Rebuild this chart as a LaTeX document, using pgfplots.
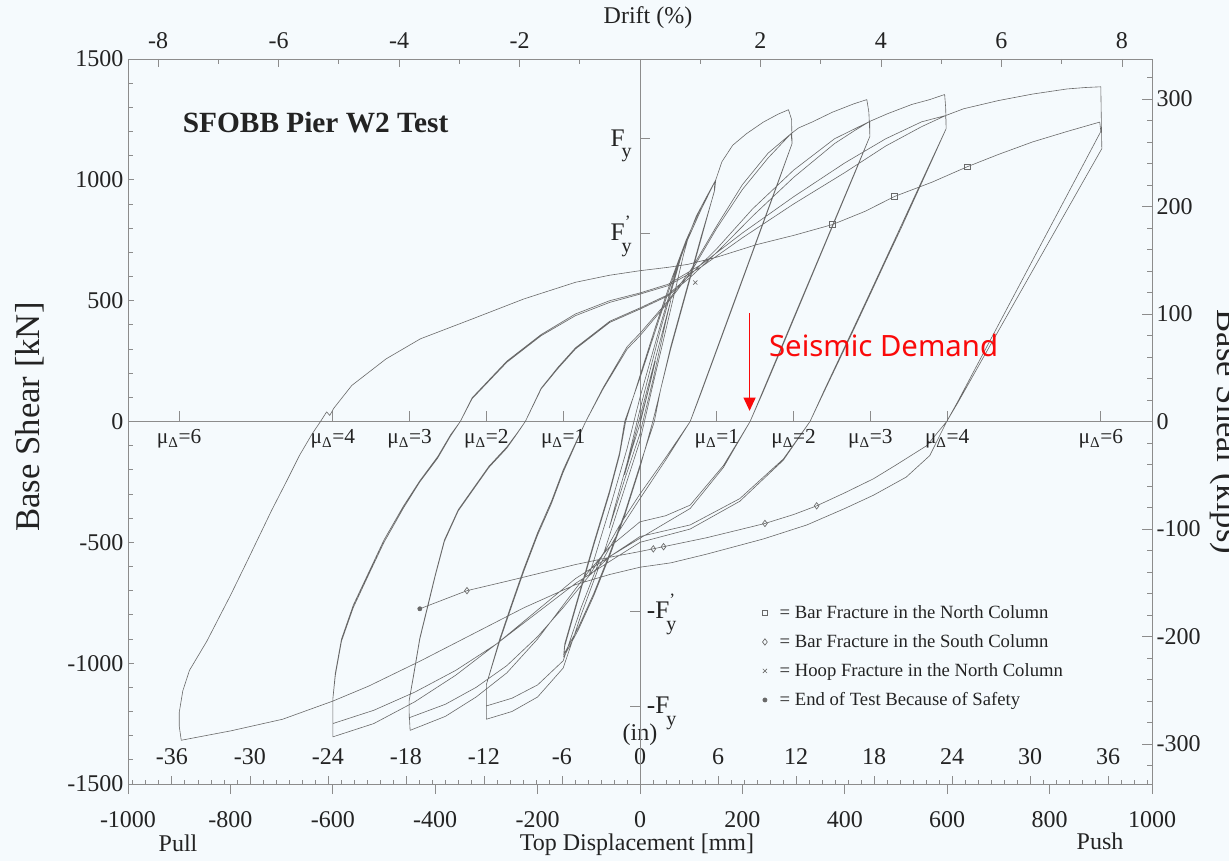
\documentclass[border=0pt]{standalone}
\usepackage{fontspec}
\setmainfont{Liberation Serif}
\newfontfamily\sdfont{Noto Sans}
\usepackage{pgfplots}
\pgfplotsset{compat=1.18}
\usetikzlibrary{arrows.meta}
\definecolor{bg}{RGB}{245,250,253}
\definecolor{axg}{RGB}{140,140,140}
\definecolor{crv}{RGB}{105,105,105}
\definecolor{txt}{RGB}{35,35,35}
\definecolor{sdred}{RGB}{250,10,10}
\newcommand{\fs}[1]{\fontsize{#1}{#1}\selectfont}
\newcommand{\mul}[1]{μ\textsubscript{Δ}=#1}
\pgfplotsset{
  base/.style={
    at={(96pt,57.75pt)}, anchor=south west,
    scale only axis, width=768pt, height=543.75pt,
    xmin=-1000, xmax=1000, ymin=-1500, ymax=1500,
    axis line style={axg, line width=0.6pt},
    tick style={axg, line width=0.5pt},
    tick label style={font=\fs{18}, text=txt},
    clip=false,
  }
}
\begin{document}
\begin{tikzpicture}
\fill[bg] (0,0) rectangle (921.75pt,645.75pt);
% bottom mm ticks
\begin{axis}[base, axis line style={draw=none},
  xtick={-1000,-800,...,1000},
  xticklabels={-1000,-800,-600,-400,-200,0,200,400,600,800,1000},
  xtick pos=left, xticklabel pos=left, tick align=outside,
  major tick length=7.5pt, ytick=\empty,
  xticklabel style={yshift=-9.5pt}]
\end{axis}
% top drift ticks
\begin{axis}[base, axis line style={draw=none}, xmin=-8.5, xmax=8.5,
  xtick={-8,-6,...,8}, xticklabels={-8,-6,-4,-2,,2,4,6,8},
  minor xtick={-7,-5,...,7},
  xtick pos=right, xticklabel pos=right, tick align=inside,
  major tick length=6pt, minor tick length=3.75pt, ytick=\empty,
  xticklabel style={yshift=4pt}]
\end{axis}
% right kips ticks
\begin{axis}[base, axis line style={draw=none}, ymin=-337.21, ymax=337.21,
  ytick={-300,-200,...,300}, yticklabels={-300,-200,-100,0,100,200,300},
  minor ytick={-320,-300,...,320},
  ytick pos=right, yticklabel pos=right, tick align=inside,
  major tick length=7.5pt, minor tick length=3.75pt, xtick=\empty]
\end{axis}
% bottom inch ticks
\begin{axis}[base, axis line style={draw=none}, xmin=-39.37, xmax=39.37,
  xtick={-36,-30,...,36}, xticklabels=\empty,
  minor xtick={-39,-38,...,39},
  xtick pos=left, tick align=inside,
  major tick length=6pt, minor tick length=3pt, ytick=\empty]
\pgfplotsinvokeforeach{-36,-30,-24,-18,-12,-6,0,6,12,18,24,30,36}{
  \node[anchor=base, font=\fs{18}, text=txt, inner sep=0] at (axis cs:#1,-1421) {#1};
}
\node[font=\fs{18}, text=txt] at (axis cs:0,-1297) {(in)};
\end{axis}
% main axis
\begin{axis}[base,
  xtick=\empty,
  ytick={-1500,-1000,-500,0,500,1000,1500},
  yticklabels={-1500,-1000,-500,0,500,1000,1500},
  minor ytick={-1400,-1300,...,1400},
  ytick pos=left, tick align=inside,
  major tick length=4.5pt, minor tick length=3.5pt,
  legend style={at={(axis cs:238,-755)}, anchor=north west, draw=none, fill=none,
    font=\fs{14}, text=txt, row sep=8.5pt, column sep=8pt, inner sep=0pt,
    nodes={inner sep=1pt}},
  legend cell align=left,
  legend image code/.code={\draw plot coordinates {(0pt,0pt)};},
]
\draw[axg, line width=0.6pt] (axis cs:-1000,0) -- (axis cs:1000,0);
\draw[axg, line width=0.6pt] (axis cs:0,-1500) -- (axis cs:0,1500);
\pgfplotsinvokeforeach{-900,-600,-450,-300,-150,150,300,450,600,900}{
  \draw[axg, line width=0.5pt] (axis cs:#1,0) -- ++(0pt,7.5pt);
}
\draw[axg, line width=0.5pt] (axis cs:0,1173) -- ++(7.5pt,0pt);
\draw[axg, line width=0.5pt] (axis cs:0,780) -- ++(7.5pt,0pt);
\draw[axg, line width=0.5pt] (axis cs:0,-784) -- ++(-7.5pt,0pt);
\draw[axg, line width=0.5pt] (axis cs:0,-1177) -- ++(-7.5pt,0pt);
\addplot[crv, line width=0.45pt, line join=round, forget plot] coordinates {
(0,0) (15,120) (30,250) (20,160) (0,-10) (-15,-110) (-30,-220) (-20,-140) (0,20)
(30,260) (60,500) (50,410) (25,170) (0,-50) (-30,-240) (-60,-440) (-50,-360) (-25,-170) (0,50)
(40,380) (80,680) (96,775) (85,690) (55,420) (25,150) (0,-80) (-35,-310) (-70,-540) (-100,-640)
(-88,-560) (-55,-330) (-25,-110) (0,100)
(40,400) (80,690) (110,850) (130,930) (148,1000) (146,960) (120,760) (90,530) (60,300) (40,130)
(25,0) (0,-190) (-30,-390) (-60,-560) (-90,-720) (-120,-860) (-149,-975) (-147,-930) (-120,-730)
(-90,-510) (-60,-300) (-40,-140) (-28,0) (0,190) (30,390) (60,580) (90,750) (120,890) (146,990)
(145,950) (120,770) (90,540) (60,310) (40,130) (28,0) (0,-180) (-30,-380) (-60,-550) (-90,-710)
(-120,-850) (-149,-965) (-147,-920) (-120,-720) (-90,-500) (-60,-290) (-40,-130) (-30,0) (0,180)
(40,440) (80,690) (120,880) (148,1000)
(160,1075) (181,1143) (208,1191) (241,1239) (270,1272) (290,1290) (296,1250) (297,1150)
(270,994) (240,821) (210,647) (180,474) (150,300) (120,127) (108,58) (98,0) (50,-160) (0,-319)
(-40,-450) (-80,-600) (-115,-800) (-150,-1020) (-200,-1140) (-250,-1200) (-300,-1232) (-300,-1150) (-300,-1088)
(-274,-909) (-250,-760) (-227,-620) (-200,-470) (-173,-340) (-150,-210) (-125,-90) (-106,0) (-72,135)
(-25,300) (0,355) (55,493) (100,620) (150,800) (200,960) (250,1090) (295,1191) (297,1150)
(270,990) (240,816) (210,642) (180,468) (150,295) (120,122) (108,55) (98,0) (50,-150) (0,-300)
(-40,-430) (-80,-580) (-115,-770) (-150,-990) (-200,-1090) (-250,-1145) (-300,-1177) (-300,-1088)
(-274,-900) (-250,-750) (-227,-610) (-200,-460) (-173,-330) (-150,-200) (-125,-85) (-106,0) (-72,140)
(-25,310) (0,365) (55,500) (100,630) (150,810) (200,980) (250,1110) (295,1191)
(310,1215) (336,1239) (376,1280) (417,1314) (443,1332) (447,1280) (449,1180)
(420,1034) (390,883) (360,731) (330,580) (300,429) (270,277) (240,126) (225,50) (215,0) (163,-182)
(98,-346) (50,-390) (0,-415) (-60,-520) (-100,-620) (-150,-760) (-200,-900) (-260,-1040) (-320,-1140)
(-380,-1220) (-449,-1278) (-451,-1200) (-451,-1157)
(-442,-1050) (-430,-900) (-415,-771) (-400,-640) (-382,-496) (-355,-370) (-328,-289) (-295,-190)
(-260,-110) (-240,-50) (-224,0) (-193,135) (-160,220) (-126,300) (-59,410) (0,465) (55,520) (100,600)
(150,700) (220,850) (300,1010) (380,1150) (420,1205) (449,1242) (449,1180)
(420,1030) (390,878) (360,726) (330,574) (300,422) (270,270) (240,120) (225,48) (215,0) (163,-190)
(98,-360) (50,-420) (0,-483) (-60,-560) (-100,-640) (-150,-770) (-200,-890) (-260,-1010) (-320,-1100)
(-380,-1170) (-451,-1226) (-451,-1157)
(-442,-1045) (-430,-895) (-415,-765) (-400,-635) (-382,-490) (-355,-365) (-328,-284) (-295,-185)
(-260,-105) (-240,-48) (-224,0) (-193,138) (-160,225) (-126,305) (-59,415) (0,470) (55,525) (100,610)
(150,715) (220,880) (300,1040) (380,1170) (449,1242)
(484,1274) (531,1312) (566,1332) (595,1353) (597,1300) (598,1212)
(570,1085) (540,948) (510,810) (480,673) (450,536) (420,400) (390,265) (360,130) (345,60) (332,0)
(280,-155) (195,-319) (98,-428) (0,-476) (-60,-560) (-126,-650) (-200,-780) (-280,-920) (-360,-1050)
(-440,-1160) (-520,-1250) (-600,-1305) (-600,-1220) (-600,-1150)
(-595,-1050) (-583,-909) (-560,-770) (-530,-634) (-500,-500) (-462,-358) (-430,-250) (-395,-151)
(-370,-60) (-351,0) (-328,94) (-260,245) (-193,355) (-126,438) (-59,493) (0,527) (55,562) (120,640)
(200,760) (300,900) (400,1030) (480,1140) (550,1220) (597,1266) (598,1212)
(570,1080) (540,940) (510,800) (480,665) (450,528) (420,392) (390,258) (360,125) (345,58) (332,0)
(280,-160) (195,-330) (98,-445) (0,-500) (-60,-580) (-126,-670) (-200,-790) (-280,-920) (-360,-1030)
(-440,-1120) (-520,-1195) (-600,-1250) (-600,-1150)
(-595,-1040) (-583,-900) (-560,-760) (-530,-625) (-500,-490) (-462,-350) (-430,-245) (-395,-145)
(-370,-55) (-351,0) (-328,98) (-260,250) (-193,360) (-126,445) (-59,500) (0,532) (55,568) (120,650)
(200,780) (300,930) (400,1070) (480,1170) (550,1240) (597,1266)
(632,1294) (700,1328) (767,1355) (834,1376) (870,1382) (900,1385) (901,1250) (902,1129)
(880,1047) (850,935) (820,823) (790,711) (760,599) (730,487) (700,375) (670,263) (640,150) (620,75)
(599,0) (566,-141) (520,-230) (456,-305) (400,-360) (326,-428) (241,-486) (130,-549) (60,-585) (0,-603)
(-59,-633) (-126,-675) (-227,-771) (-328,-881) (-429,-991) (-530,-1095) (-600,-1157) (-698,-1232)
(-799,-1280) (-896,-1319) (-900,-1260) (-900,-1205)
(-893,-1115) (-880,-1030) (-846,-909) (-800,-720) (-770,-590) (-745,-480) (-720,-370) (-691,-250)
(-665,-140) (-640,-50) (-624,0) (-612,40) (-606,25) (-598,55) (-563,149) (-496,259) (-429,342)
(-328,424) (-227,507) (-126,576) (-60,605) (0,624) (55,638) (93,650) (150,680) (228,732) (300,770)
(376,815) (440,870) (497,931) (570,990) (639,1054) (700,1105) (767,1157) (834,1200) (898,1239) (900,1200)
(880,1120) (850,1000) (820,880) (790,760) (760,640) (730,520) (700,400) (670,280) (640,160) (620,80)
(599,0) (560,-100) (500,-180) (456,-237) (400,-295) (345,-349) (300,-385) (244,-422) (190,-450)
(130,-481) (46,-518) (0,-538) (-55,-560) (-126,-592) (-200,-630) (-260,-661) (-338,-700) (-430,-775)
};
\addplot[only marks, mark=square, mark size=2.1pt, crv, line width=0.5pt] coordinates {(376,815) (497,931) (639,1054)};
\addlegendentry{= Bar Fracture in the North Column}
\addplot[only marks, mark=diamond, mark size=2.4pt, crv, line width=0.5pt] coordinates {(26,-527) (46,-518) (244,-422) (345,-349) (-338,-700)};
\addlegendentry{= Bar Fracture in the South Column}
\addplot[only marks, mark=x, mark size=2.2pt, crv, line width=0.5pt] coordinates {(108,575)};
\addlegendentry{= Hoop Fracture in the North Column}
\addplot[only marks, mark=*, mark size=1.6pt, crv, fill=crv] coordinates {(-430,-775)};
\addlegendentry{= End of Test Because of Safety}
% labels
\node[anchor=west, font=\bfseries\fs{22}, text=txt] at (axis cs:-902,1239) {SFOBB Pier W2 Test};
\node[anchor=base east, font=\fs{19}, text=txt, inner sep=0] at ([xshift=-6pt,yshift=-6pt]axis cs:0,1173) {F\kern-0.12em\raisebox{-0.45em}{\fs{15}y}};
\node[anchor=base east, font=\fs{19}, text=txt, inner sep=0] at ([xshift=-6pt,yshift=-6pt]axis cs:0,780) {F\rlap{\raisebox{0.55em}{\fs{13}'}}\kern-0.12em\raisebox{-0.45em}{\fs{15}y}};
\node[anchor=base west, font=\fs{19}, text=txt, inner sep=0] at ([xshift=5pt,yshift=-6pt]axis cs:0,-784) {-F\rlap{\raisebox{0.55em}{\fs{13}'}}\kern-0.12em\raisebox{-0.45em}{\fs{15}y}};
\node[anchor=base west, font=\fs{19}, text=txt, inner sep=0] at ([xshift=5pt,yshift=-6pt]axis cs:0,-1177) {-F\kern-0.12em\raisebox{-0.45em}{\fs{15}y}};
\node[anchor=north, font=\fs{16}, text=txt, inner sep=0] at ([yshift=-6pt]axis cs:-900,0) {\mul{6}};
\node[anchor=north, font=\fs{16}, text=txt, inner sep=0] at ([yshift=-6pt]axis cs:-600,0) {\mul{4}};
\node[anchor=north, font=\fs{16}, text=txt, inner sep=0] at ([yshift=-6pt]axis cs:-450,0) {\mul{3}};
\node[anchor=north, font=\fs{16}, text=txt, inner sep=0] at ([yshift=-6pt]axis cs:-300,0) {\mul{2}};
\node[anchor=north, font=\fs{16}, text=txt, inner sep=0] at ([yshift=-6pt]axis cs:-150,0) {\mul{1}};
\node[anchor=north, font=\fs{16}, text=txt, inner sep=0] at ([yshift=-6pt]axis cs:150,0) {\mul{1}};
\node[anchor=north, font=\fs{16}, text=txt, inner sep=0] at ([yshift=-6pt]axis cs:300,0) {\mul{2}};
\node[anchor=north, font=\fs{16}, text=txt, inner sep=0] at ([yshift=-6pt]axis cs:450,0) {\mul{3}};
\node[anchor=north, font=\fs{16}, text=txt, inner sep=0] at ([yshift=-6pt]axis cs:600,0) {\mul{4}};
\node[anchor=north, font=\fs{16}, text=txt, inner sep=0] at ([yshift=-6pt]axis cs:900,0) {\mul{6}};
\draw[sdred, line width=1.2pt, -{Triangle[width=9pt,length=10pt]}] (axis cs:214,447) -- (axis cs:214,44);
\node[anchor=west, font=\sdfont\fs{22}, text=sdred] at (axis cs:243,315) {Seismic Demand};
\end{axis}
\node[font=\fs{18}, text=txt] at (486pt,632.25pt) {Drift (\%)};
\node[font=\fs{18}, text=txt] at (477.75pt,12pt) {Top Displacement [mm]};
\node[font=\fs{18}, text=txt] at (133.5pt,13.5pt) {Pull};
\node[font=\fs{18}, text=txt] at (825pt,15pt) {Push};
\node[font=\fs{26}, text=txt, rotate=90] at (22.5pt,333pt) {Base Shear [kN]};
\node[font=\fs{26}, text=txt, rotate=-90, anchor=base west] at (913pt,417pt) {Base Shear (kips)};
\pgfresetboundingbox
\path[use as bounding box] (0,0) rectangle (921.75pt,645.75pt);
\end{tikzpicture}
\end{document}
